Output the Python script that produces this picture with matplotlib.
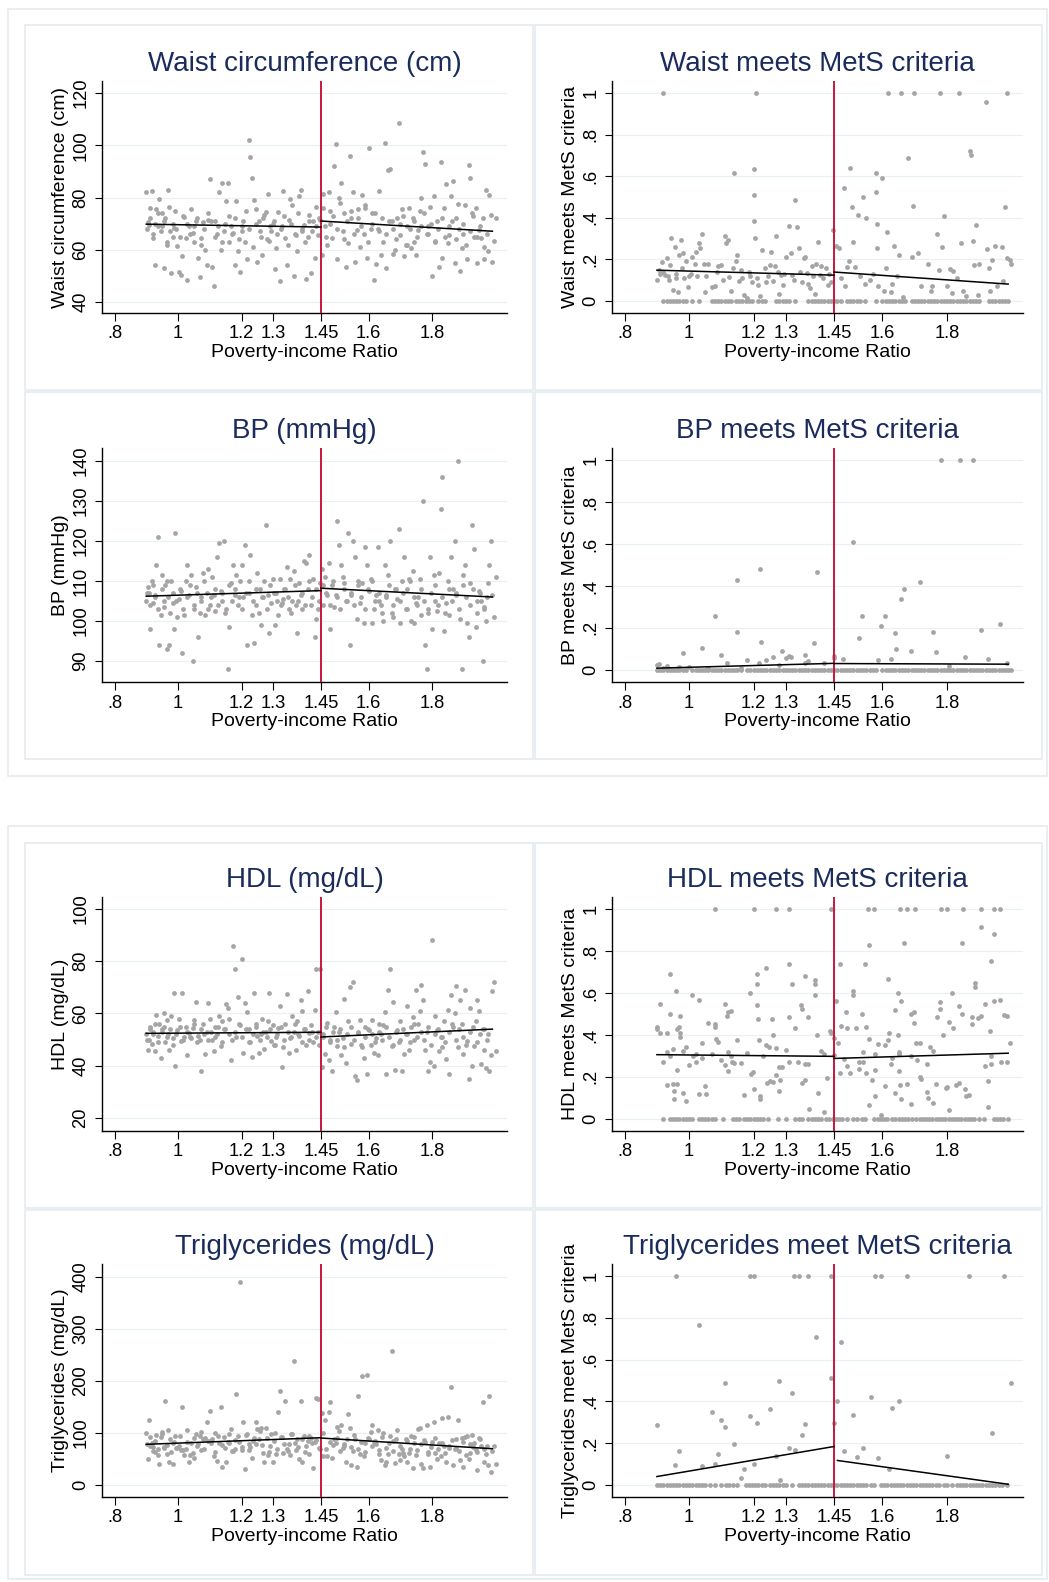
import matplotlib
matplotlib.use("Agg")
import matplotlib.pyplot as plt
from matplotlib.patches import Rectangle

plt.rcParams['font.family'] = ['Liberation Sans', 'DejaVu Sans']

# ---- data ----
pir = [
    0.900, 0.904, 0.909, 0.913, 0.918, 0.922, 0.927, 0.931, 0.936, 0.941,
    0.946, 0.950, 0.955, 0.959, 0.964, 0.969, 0.973, 0.978, 0.983, 0.987,
    0.992, 0.998, 1.003, 1.008, 1.013, 1.018, 1.024, 1.029, 1.035, 1.040,
    1.046, 1.051, 1.057, 1.062, 1.068, 1.073, 1.079, 1.084, 1.090, 1.095,
    1.101, 1.106, 1.112, 1.117, 1.123, 1.128, 1.134, 1.139, 1.145, 1.150,
    1.156, 1.161, 1.167, 1.172, 1.178, 1.183, 1.189, 1.194, 1.200, 1.205,
    1.211, 1.216, 1.222, 1.227, 1.233, 1.238, 1.244, 1.249, 1.255, 1.260,
    1.266, 1.271, 1.277, 1.282, 1.288, 1.293, 1.299, 1.304, 1.310, 1.315,
    1.321, 1.326, 1.332, 1.337, 1.343, 1.348, 1.354, 1.359, 1.365, 1.370,
    1.376, 1.381, 1.387, 1.392, 1.398, 1.403, 1.409, 1.414, 1.420, 1.425,
    1.431, 1.436, 1.442, 1.447, 1.453, 1.458, 1.464, 1.469, 1.475, 1.480,
    1.486, 1.491, 1.497, 1.502, 1.508, 1.513, 1.519, 1.524, 1.530, 1.535,
    1.541, 1.546, 1.552, 1.557, 1.563, 1.568, 1.574, 1.579, 1.585, 1.590,
    1.596, 1.601, 1.607, 1.612, 1.618, 1.623, 1.629, 1.634, 1.640, 1.645,
    1.651, 1.656, 1.662, 1.667, 1.673, 1.678, 1.684, 1.689, 1.695, 1.700,
    1.706, 1.711, 1.717, 1.722, 1.728, 1.733, 1.739, 1.744, 1.750, 1.755,
    1.761, 1.766, 1.772, 1.777, 1.783, 1.788, 1.794, 1.799, 1.805, 1.810,
    1.816, 1.821, 1.827, 1.832, 1.838, 1.843, 1.849, 1.854, 1.860, 1.865,
    1.871, 1.876, 1.882, 1.887, 1.893, 1.898, 1.904, 1.909, 1.915, 1.920,
    1.926, 1.931, 1.937, 1.942, 1.948, 1.953, 1.959, 1.964, 1.969, 1.975,
    1.980, 1.985, 1.990, 1.995, 2.000]

# second batch of points (denser middle band)
pir_b = [
    0.902, 0.911, 0.920, 0.929, 0.938, 0.948, 0.957, 0.966, 0.976, 0.985,
    0.995, 1.006, 1.016, 1.027, 1.038, 1.049, 1.060, 1.071, 1.082, 1.093,
    1.104, 1.115, 1.126, 1.137, 1.148, 1.159, 1.170, 1.181, 1.192, 1.203,
    1.214, 1.225, 1.236, 1.247, 1.258, 1.269, 1.280, 1.291, 1.302, 1.313,
    1.324, 1.335, 1.346, 1.357, 1.368, 1.379, 1.390, 1.401, 1.412, 1.423,
    1.434, 1.445, 1.456, 1.467, 1.478, 1.489, 1.500, 1.511, 1.522, 1.533,
    1.544, 1.555, 1.566, 1.577, 1.588, 1.599, 1.610, 1.621, 1.632, 1.643,
    1.654, 1.665, 1.676, 1.687, 1.698, 1.709, 1.720, 1.731, 1.742, 1.753,
    1.764, 1.775, 1.786, 1.797, 1.808, 1.819, 1.830, 1.841, 1.852, 1.863,
    1.874, 1.885, 1.896, 1.907, 1.918, 1.929, 1.940, 1.951, 1.962, 1.973]

waist = [
    82.0, 70.5, 69.5, 76.0, 82.5, 64.5, 54.0, 75.5, 69.0, 79.5,
    67.0, 74.0, 53.0, 72.0, 62.0, 83.0, 76.5, 51.0, 65.0, 68.5,
    75.0, 61.5, 51.5, 50.5, 57.5, 72.5, 64.5, 48.5, 69.0, 75.5,
    66.5, 63.0, 71.0, 57.0, 49.5, 64.5, 70.5, 60.0, 54.0, 71.5,
    87.0, 53.5, 46.0, 71.0, 66.0, 82.0, 60.0, 85.5, 67.0, 78.5,
    85.5, 63.0, 69.0, 66.5, 54.0, 78.5, 59.5, 51.5, 67.0, 71.0,
    63.0, 56.5, 102.0, 95.5, 87.5, 79.0, 75.5, 55.5, 71.0, 65.0,
    58.0, 73.5, 74.5, 81.5, 63.5, 67.0, 70.0, 52.5, 60.5, 74.5,
    48.0, 69.0, 82.5, 64.5, 54.0, 71.5, 79.5, 77.0, 50.0, 65.5,
    59.5, 80.5, 83.0, 67.0, 69.5, 49.0, 65.0, 73.5, 51.0, 71.0,
    57.0, 76.5, 65.5, 71.5, 58.0, 81.5, 69.0, 62.0, 82.0, 75.0,
    64.5, 92.0, 100.5, 56.5, 80.0, 85.5, 67.0, 74.0, 53.5, 62.5,
    96.0, 72.0, 82.0, 55.5, 67.5, 75.5, 61.0, 81.0, 66.0, 76.0,
    57.0, 99.0, 68.0, 74.0, 48.5, 54.5, 68.0, 82.5, 58.0, 63.0,
    101.0, 53.0, 90.5, 91.0, 71.0, 58.5, 60.0, 72.0, 108.5, 65.5,
    75.5, 57.5, 62.0, 69.0, 76.0, 60.5, 72.0, 63.0, 58.0, 67.5,
    75.0, 80.0, 97.5, 93.0, 66.0, 69.0, 76.5, 50.0, 80.5, 63.5,
    71.0, 53.5, 93.5, 57.0, 76.0, 85.0, 62.5, 65.5, 80.5, 86.5,
    55.0, 72.0, 77.5, 52.0, 60.5, 66.0, 77.0, 56.5, 92.5, 87.5,
    74.0, 65.0, 76.0, 55.0, 67.5, 64.5, 72.0, 56.5, 83.0, 59.5,
    81.0, 73.5, 55.5, 63.5, 72.0]
waist_b = [
    68, 72, 66, 70, 74, 69, 71, 63, 67, 70,
    68, 65, 73, 70, 66, 69, 72, 62, 68, 74,
    71, 65, 69, 63, 70, 73, 66, 72, 64, 69,
    75, 68, 61, 70, 67, 72, 64, 69, 71, 66,
    68, 73, 62, 70, 66, 74, 68, 63, 71, 67,
    69, 72, 76, 65, 70, 73, 68, 78, 64, 71,
    75, 66, 72, 69, 77, 63, 70, 74, 67, 72,
    66, 71, 68, 64, 70, 73, 62, 68, 71, 65,
    69, 74, 66, 70, 63, 68, 72, 65, 69, 71,
    64, 68, 70, 62, 67, 73, 65, 69, 61, 66]

bp = [
    105.0, 108.5, 107.0, 98.0, 110.0, 104.5, 106.5, 114.0, 121.0, 94.0,
    101.5, 111.5, 103.5, 109.0, 93.0, 106.0, 94.0, 110.0, 104.5, 98.0,
    122.0, 101.0, 105.5, 107.5, 92.0, 101.5, 110.0, 114.0, 106.5, 111.5,
    90.0, 103.0, 108.5, 96.0, 102.0, 106.0, 112.0, 101.5, 107.0, 113.0,
    104.0, 111.0, 106.5, 102.5, 116.0, 119.5, 107.5, 105.0, 120.0, 103.0,
    88.0, 98.5, 109.5, 114.0, 106.5, 111.5, 104.0, 110.0, 114.0, 106.0,
    119.0, 94.0, 107.0, 116.5, 101.5, 94.5, 108.0, 112.0, 102.0, 99.0,
    106.0, 110.0, 124.0, 106.5, 97.0, 104.5, 110.5, 99.0, 107.0, 101.5,
    110.5, 104.5, 105.5, 108.0, 113.5, 103.0, 110.5, 105.0, 112.5, 104.0,
    97.0, 109.5, 106.5, 103.0, 115.0, 114.5, 108.0, 116.5, 104.0, 110.5,
    96.0, 100.5, 103.0, 109.5, 113.0, 104.0, 111.0, 106.5, 114.5, 98.0,
    109.0, 103.5, 106.5, 125.0, 119.0, 114.0, 111.0, 109.5, 105.0, 122.0,
    94.0, 106.5, 120.0, 116.0, 100.5, 110.0, 104.5, 109.5, 99.5, 118.5,
    114.0, 107.5, 110.5, 99.5, 103.0, 106.5, 118.5, 105.0, 104.0, 100.0,
    114.0, 106.5, 111.5, 120.0, 102.0, 101.0, 108.0, 105.5, 123.0, 99.5,
    110.0, 116.0, 103.0, 108.0, 110.5, 100.0, 112.5, 99.5, 104.5, 106.0,
    110.5, 101.5, 130.0, 94.0, 88.0, 102.0, 116.0, 98.0, 111.5, 105.0,
    102.5, 112.0, 128.0, 136.0, 97.5, 104.5, 110.0, 101.5, 116.0, 108.0,
    120.0, 106.5, 140.0, 100.5, 88.0, 111.5, 114.0, 99.5, 96.0, 109.5,
    124.0, 118.0, 98.5, 102.0, 107.5, 105.0, 90.0, 103.5, 100.0, 109.5,
    114.0, 120.0, 106.5, 101.0, 111.0]
bp_b = [
    107, 104, 109, 106, 103, 108, 105, 110, 102, 107,
    105, 108, 103, 106, 109, 104, 107, 105, 110, 103,
    106, 108, 104, 107, 102, 109, 105, 108, 106, 103,
    107, 110, 105, 104, 108, 106, 103, 109, 107, 105,
    104, 108, 106, 102, 109, 105, 107, 104, 110, 106,
    108, 105, 109, 107, 104, 110, 106, 103, 108, 105,
    107, 104, 109, 106, 103, 108, 110, 105, 107, 102,
    106, 109, 104, 108, 105, 107, 103, 110, 106, 104,
    108, 105, 103, 107, 109, 104, 106, 102, 108, 105,
    107, 103, 109, 106, 104, 108, 105, 107, 103, 106]

hdl = [
    52.0, 46.0, 50.0, 55.0, 48.5, 53.0, 45.5, 59.5, 51.5, 56.0,
    43.0, 54.0, 60.0, 49.0, 57.5, 52.0, 46.0, 59.0, 50.5, 68.0,
    40.0, 53.5, 58.0, 49.5, 68.0, 51.0, 55.0, 44.0, 52.5, 50.5,
    54.5, 57.5, 64.5, 51.5, 50.0, 38.0, 56.0, 44.5, 53.0, 64.0,
    58.0, 50.0, 45.5, 55.0, 52.0, 59.0, 47.5, 57.0, 54.0, 63.5,
    62.0, 58.0, 42.0, 86.0, 77.0, 51.0, 66.5, 55.5, 81.0, 45.0,
    64.0, 60.5, 54.0, 49.0, 43.5, 68.0, 56.0, 51.5, 45.0, 52.0,
    58.0, 46.5, 53.0, 57.0, 68.0, 49.5, 55.5, 48.0, 51.0, 54.5,
    63.0, 39.5, 47.0, 56.0, 67.5, 45.0, 50.5, 59.0, 53.0, 46.0,
    57.0, 51.5, 65.0, 61.0, 54.0, 48.0, 68.5, 52.5, 55.5, 49.0,
    61.5, 77.0, 53.0, 77.0, 39.5, 51.0, 44.5, 56.5, 42.0, 50.0,
    38.0, 55.0, 60.5, 47.5, 53.0, 44.0, 50.5, 65.5, 41.0, 57.0,
    70.0, 48.5, 72.0, 36.0, 34.5, 52.5, 57.5, 47.0, 43.0, 55.0,
    37.0, 53.5, 48.0, 57.5, 45.0, 50.5, 44.0, 56.0, 52.0, 55.5,
    60.5, 37.0, 69.0, 77.0, 47.5, 64.5, 38.5, 53.5, 49.0, 57.0,
    38.0, 44.5, 52.0, 63.0, 46.0, 55.0, 58.5, 50.0, 69.0, 56.0,
    61.0, 71.0, 65.0, 46.0, 53.0, 38.0, 41.5, 88.0, 40.0, 59.0,
    53.5, 45.5, 51.0, 47.0, 57.0, 42.5, 61.5, 37.0, 67.0, 55.0,
    60.0, 70.5, 47.0, 65.0, 56.0, 44.5, 69.0, 49.5, 35.0, 62.0,
    40.0, 47.5, 57.0, 65.0, 61.0, 40.5, 54.0, 46.0, 39.0, 52.0,
    38.0, 44.0, 68.5, 72.0, 45.5]
hdl_b = [
    50, 54, 52, 56, 49, 53, 55, 51, 54, 48,
    52, 55, 50, 53, 51, 56, 49, 54, 52, 50,
    53, 51, 55, 49, 54, 52, 50, 53, 56, 51,
    54, 49, 52, 55, 50, 53, 51, 54, 48, 52,
    55, 50, 53, 51, 56, 52, 49, 54, 50, 53,
    51, 48, 52, 55, 49, 53, 50, 54, 47, 52,
    55, 50, 53, 48, 51, 54, 52, 49, 53, 50,
    55, 51, 48, 53, 50, 54, 52, 49, 56, 51,
    53, 50, 55, 48, 52, 54, 51, 49, 53, 56,
    50, 54, 51, 48, 53, 55, 49, 52, 54, 50]

trig = [
    100.0, 50.0, 125.0, 76.0, 80.0, 73.0, 63.0, 96.0, 57.0, 40.0,
    92.0, 102.0, 71.0, 162.0, 77.0, 106.0, 45.0, 64.0, 40.0, 82.0,
    95.0, 72.0, 76.0, 68.0, 150.0, 57.0, 70.0, 106.0, 45.0, 80.0,
    62.0, 52.0, 98.0, 78.0, 95.0, 68.0, 88.0, 90.0, 122.0, 84.0,
    143.0, 88.0, 56.0, 100.0, 47.0, 80.0, 150.0, 35.0, 92.0, 45.0,
    82.0, 80.0, 108.0, 65.0, 70.0, 175.0, 95.0, 390.0, 68.0, 122.0,
    30.0, 98.0, 78.0, 73.0, 52.0, 90.0, 122.0, 107.0, 88.0, 110.0,
    77.0, 45.0, 110.0, 58.0, 63.0, 98.0, 45.0, 100.0, 60.0, 140.0,
    181.0, 93.0, 62.0, 162.0, 70.0, 78.0, 58.0, 98.0, 238.0, 68.0,
    88.0, 50.0, 162.0, 45.0, 95.0, 75.0, 84.0, 60.0, 90.0, 32.0,
    82.0, 168.0, 165.0, 70.0, 138.0, 55.0, 126.0, 56.0, 140.0, 160.0,
    52.0, 88.0, 80.0, 112.0, 104.0, 115.0, 72.0, 75.0, 45.0, 137.0,
    110.0, 38.0, 65.0, 88.0, 35.0, 172.0, 60.0, 210.0, 55.0, 80.0,
    212.0, 88.0, 102.0, 116.0, 82.0, 78.0, 105.0, 60.0, 48.0, 100.0,
    38.0, 45.0, 60.0, 95.0, 258.0, 85.0, 42.0, 106.0, 60.0, 48.0,
    70.0, 55.0, 88.0, 45.0, 62.0, 95.0, 32.0, 80.0, 58.0, 108.0,
    110.0, 40.0, 33.0, 82.0, 115.0, 60.0, 35.0, 82.0, 122.0, 62.0,
    50.0, 80.0, 55.0, 128.0, 75.0, 45.0, 130.0, 72.0, 188.0, 38.0,
    70.0, 88.0, 125.0, 48.0, 90.0, 35.0, 92.0, 95.0, 50.0, 62.0,
    96.0, 80.0, 68.0, 28.0, 90.0, 75.0, 160.0, 45.0, 60.0, 38.0,
    172.0, 25.0, 65.0, 75.0, 40.0]
trig_b = [
    78, 92, 65, 84, 70, 98, 74, 60, 88, 81,
    72, 95, 67, 83, 58, 90, 76, 102, 69, 85,
    80, 63, 94, 77, 71, 99, 66, 87, 82, 73,
    96, 68, 85, 79, 104, 62, 90, 75, 84, 70,
    92, 78, 66, 98, 81, 73, 88, 64, 95, 80,
    86, 72, 100, 69, 83, 77, 91, 65, 79, 88,
    74, 96, 70, 82, 63, 90, 76, 85, 68, 93,
    72, 80, 66, 88, 75, 61, 84, 70, 92, 67,
    78, 86, 64, 74, 90, 69, 81, 62, 76, 87,
    71, 66, 83, 58, 79, 73, 64, 88, 69, 75]

# share meeting the criteria: non-zero points and x positions of the zeros
waist_mets_x = [
    0.900, 0.905, 0.910, 0.915, 0.920, 0.925, 0.930, 0.935, 0.940, 0.945,
    0.950, 0.955, 0.960, 0.965, 0.970, 0.975, 0.980, 0.985, 0.990, 0.995,
    1.005, 1.010, 1.020, 1.025, 1.030, 1.035, 1.040, 1.045, 1.050, 1.060,
    1.070, 1.080, 1.090, 1.100, 1.110, 1.115, 1.120, 1.125, 1.130, 1.140,
    1.145, 1.150, 1.155, 1.160, 1.170, 1.180, 1.190, 1.195, 1.200, 1.201,
    1.202, 1.203, 1.209, 1.210, 1.215, 1.220, 1.225, 1.235, 1.240, 1.250,
    1.255, 1.260, 1.270, 1.275, 1.280, 1.285, 1.290, 1.300, 1.310, 1.315,
    1.320, 1.330, 1.335, 1.340, 1.350, 1.355, 1.360, 1.365, 1.370, 1.375,
    1.380, 1.390, 1.395, 1.400, 1.405, 1.410, 1.425, 1.430, 1.440, 1.445,
    1.455, 1.465, 1.470, 1.480, 1.485, 1.490, 1.495, 1.500, 1.505, 1.510,
    1.515, 1.525, 1.530, 1.540, 1.545, 1.550, 1.560, 1.570, 1.580, 1.581,
    1.582, 1.583, 1.585, 1.600, 1.605, 1.610, 1.615, 1.617, 1.625, 1.630,
    1.635, 1.645, 1.650, 1.658, 1.665, 1.680, 1.690, 1.695, 1.698, 1.710,
    1.720, 1.740, 1.750, 1.755, 1.770, 1.775, 1.777, 1.785, 1.790, 1.800,
    1.810, 1.815, 1.820, 1.830, 1.837, 1.845, 1.850, 1.860, 1.870, 1.875,
    1.880, 1.885, 1.890, 1.895, 1.900, 1.920, 1.925, 1.930, 1.935, 1.940,
    1.950, 1.955, 1.970, 1.975, 1.980, 1.985, 1.986, 1.995, 2.000,
    0.918, 0.938, 0.958, 0.978, 0.998, 1.018, 1.052, 1.085, 1.105, 1.135,
    1.165, 1.185, 1.245, 1.265, 1.295, 1.325, 1.345, 1.385, 1.415, 1.435]
waist_mets_y = [
    0.100, 0.150, 0.130, 0.185, 1.000, 0.125, 0.205, 0.120, 0.175, 0.305,
    0.055, 0.260, 0.110, 0.045, 0.220, 0.295, 0.230, 0.110, 0.190, 0.065,
    0.130, 0.210, 0.235, 0.120, 0.280, 0.255, 0.320, 0.180, 0.045, 0.180,
    0.065, 0.070, 0.170, 0.175, 0.310, 0.280, 0.295, 0.115, 0.050, 0.615,
    0.190, 0.220, 0.095, 0.150, 0.030, 0.015, 0.120, 0.090, 0.635, 0.510,
    0.385, 0.305, 1.000, 0.110, 0.075, 0.025, 0.245, 0.160, 0.090, 0.175,
    0.235, 0.095, 0.310, 0.140, 0.035, 0.125, 0.075, 0.210, 0.360, 0.230,
    0.125, 0.485, 0.355, 0.255, 0.090, 0.205, 0.210, 0.135, 0.080, 0.060,
    0.170, 0.035, 0.180, 0.285, 0.125, 0.170, 0.160, 0.075, 0.090, 0.340,
    0.265, 0.255, 0.110, 0.545, 0.070, 0.165, 0.190, 0.640, 0.450, 0.285,
    0.165, 0.415, 0.120, 0.500, 0.080, 0.400, 0.100, 0.130, 0.615, 0.525,
    0.370, 0.255, 0.070, 0.590, 0.050, 0.160, 0.330, 1.000, 0.045, 0.080,
    0.265, 0.120, 0.220, 1.000, 0.020, 0.690, 0.210, 0.455, 1.000, 0.230,
    0.070, 0.180, 0.050, 0.070, 0.320, 0.150, 1.000, 0.260, 0.410, 0.070,
    0.155, 0.040, 0.145, 0.110, 1.000, 0.280, 0.050, 0.025, 0.720, 0.700,
    0.290, 0.175, 0.365, 0.030, 0.180, 0.955, 0.250, 0.160, 0.050, 0.195,
    0.265, 0.070, 0.260, 0.095, 0.450, 0.205, 1.000, 0.195, 0.180,
    0.140, 0.100, 0.130, 0.160, 0.120, 0.180, 0.120, 0.140, 0.100, 0.160,
    0.110, 0.140, 0.120, 0.170, 0.130, 0.100, 0.140, 0.120, 0.110, 0.130]
waist_zero_x = [
    0.92, 0.93, 0.94, 0.95, 0.96, 0.97, 0.98, 0.99, 1.01, 1.03, 1.07, 1.08,
    1.09, 1.10, 1.11, 1.12, 1.13, 1.145, 1.155, 1.165, 1.175, 1.185, 1.195,
    1.215, 1.225, 1.235, 1.27, 1.28, 1.29, 1.30, 1.31, 1.33, 1.37, 1.38,
    1.39, 1.40, 1.41, 1.42, 1.43, 1.44, 1.45, 1.46, 1.47, 1.49, 1.50, 1.51,
    1.52, 1.53, 1.545, 1.58, 1.60, 1.61, 1.62, 1.63, 1.64, 1.65, 1.66, 1.67,
    1.69, 1.70, 1.71, 1.72, 1.73, 1.74, 1.75, 1.76, 1.77, 1.78, 1.79, 1.80,
    1.81, 1.82, 1.83, 1.84, 1.85, 1.86, 1.87, 1.88, 1.89, 1.90, 1.93, 1.94,
    1.95, 1.96, 1.97, 1.98, 1.99]

bp_mets_x = [
    1.780, 1.840, 1.880, 1.507, 1.219, 1.397, 1.148, 1.717, 1.667, 1.657,
    1.080, 1.537, 1.607, 1.966, 1.596, 1.906, 1.150, 1.756, 1.638, 1.527,
    1.222, 1.387, 1.040, 1.641, 1.687, 1.289, 1.766, 0.980, 1.099, 1.358,
    1.309, 1.449, 1.260, 1.856, 1.299, 1.478, 1.627, 1.926, 1.179, 1.239,
    1.587, 1.368, 1.119, 1.218, 1.418, 1.986, 0.908, 0.900, 0.930, 1.806,
    0.970, 1.000, 1.060, 1.160, 1.280, 1.451, 1.360, 1.315, 0.920]
bp_mets_y = [
    1.000, 1.000, 1.000, 0.610, 0.480, 0.465, 0.430, 0.420, 0.385, 0.340,
    0.255, 0.255, 0.255, 0.220, 0.210, 0.190, 0.180, 0.180, 0.175, 0.150,
    0.135, 0.130, 0.105, 0.100, 0.090, 0.090, 0.085, 0.080, 0.070, 0.070,
    0.065, 0.065, 0.060, 0.060, 0.055, 0.050, 0.050, 0.050, 0.045, 0.045,
    0.045, 0.040, 0.035, 0.035, 0.035, 0.035, 0.030, 0.025, 0.020, 0.020,
    0.015, 0.015, 0.010, 0.010, 0.025, 0.055, 0.035, 0.060, 0.010]
bp_zero_x = [
    0.90, 0.91, 0.92, 0.93, 0.94, 0.95, 0.96, 0.97, 0.98, 0.99, 1.01, 1.02,
    1.03, 1.04, 1.05, 1.06, 1.07, 1.08, 1.09, 1.10, 1.11, 1.12, 1.13, 1.14,
    1.15, 1.16, 1.18, 1.19, 1.20, 1.21, 1.22, 1.23, 1.24, 1.25, 1.26, 1.27,
    1.28, 1.29, 1.30, 1.31, 1.32, 1.33, 1.34, 1.35, 1.36, 1.37, 1.38, 1.39,
    1.40, 1.41, 1.42, 1.43, 1.44, 1.45, 1.46, 1.47, 1.48, 1.49, 1.50, 1.51,
    1.52, 1.53, 1.54, 1.55, 1.56, 1.57, 1.58, 1.60, 1.61, 1.62, 1.63, 1.64,
    1.65, 1.66, 1.67, 1.68, 1.69, 1.70, 1.71, 1.72, 1.73, 1.74, 1.75, 1.76,
    1.77, 1.78, 1.79, 1.80, 1.81, 1.82, 1.83, 1.84, 1.85, 1.86, 1.87, 1.88,
    1.89, 1.90, 1.91, 1.92, 1.93, 1.94, 1.95, 1.96, 1.97, 1.98, 1.99, 2.00]

hdl_mets_x = [
    1.080, 1.200, 1.270, 1.310, 1.440, 1.555, 1.575, 1.655, 1.675, 1.700,
    1.780, 1.800, 1.850, 1.905, 1.945, 1.965,
    0.900, 0.901, 0.909, 0.910, 0.919, 0.930, 0.931, 0.932, 0.940, 0.941,
    0.942, 0.950, 0.951, 0.952, 0.953, 0.960, 0.961, 0.962, 0.963, 0.970,
    0.971, 0.972, 0.973, 0.980, 0.981, 0.990, 0.991, 1.000, 1.010, 1.011,
    1.020, 1.021, 1.030, 1.031, 1.040, 1.041, 1.050, 1.051, 1.060, 1.070,
    1.079, 1.081, 1.082, 1.089, 1.100, 1.110, 1.111, 1.119, 1.120, 1.121,
    1.122, 1.130, 1.131, 1.132, 1.140, 1.149, 1.160, 1.170, 1.180, 1.190,
    1.191, 1.199, 1.201, 1.210, 1.211, 1.212, 1.213, 1.218, 1.219, 1.220,
    1.228, 1.239, 1.240, 1.241, 1.249, 1.250, 1.258, 1.259, 1.260, 1.269,
    1.270, 1.279, 1.280, 1.281, 1.289, 1.299, 1.309, 1.310, 1.311, 1.318,
    1.329, 1.338, 1.348, 1.349, 1.350, 1.359, 1.360, 1.361, 1.369, 1.370,
    1.371, 1.389, 1.390, 1.391, 1.398, 1.399, 1.408, 1.419, 1.420, 1.429,
    1.438, 1.439, 1.449, 1.450,
    1.457, 1.469, 1.470, 1.462, 1.480, 1.488, 1.489, 1.490, 1.468, 1.498,
    1.508, 1.509, 1.518, 1.527, 1.528, 1.537, 1.538, 1.539, 1.547, 1.548,
    1.549, 1.557, 1.558, 1.559, 1.567, 1.576, 1.577, 1.578, 1.586, 1.596,
    1.607, 1.608, 1.617, 1.618, 1.619, 1.627, 1.628, 1.638, 1.639, 1.648,
    1.649, 1.650, 1.651, 1.652, 1.653, 1.656, 1.657, 1.667, 1.677, 1.687,
    1.688, 1.689, 1.698, 1.699, 1.705, 1.706, 1.716, 1.717, 1.718, 1.738,
    1.739, 1.740, 1.746, 1.757, 1.758, 1.767, 1.768, 1.777, 1.778, 1.787,
    1.798, 1.799, 1.806, 1.807, 1.817, 1.818, 1.827, 1.837, 1.838, 1.847,
    1.848, 1.857, 1.858, 1.867, 1.878, 1.879, 1.886, 1.887, 1.896, 1.906,
    1.907, 1.917, 1.918, 1.927, 1.928, 1.935, 1.936, 1.937, 1.938, 1.946,
    1.947, 1.966, 1.967, 1.976, 1.986, 1.987, 1.996]
hdl_mets_y = [
    1.0, 1.0, 1.0, 1.0, 1.0, 1.0, 1.0, 1.0, 1.0, 1.0,
    1.0, 1.0, 1.0, 1.0, 1.0, 1.0,
    0.440, 0.430, 0.550, 0.410, 0.270, 0.160, 0.320, 0.410, 0.690, 0.500,
    0.300, 0.335, 0.165, 0.135, 0.095, 0.610, 0.430, 0.235, 0.165, 0.440,
    0.410, 0.390, 0.490, 0.325, 0.125, 0.345, 0.085, 0.255, 0.590, 0.300,
    0.310, 0.270, 0.565, 0.120, 0.360, 0.290, 0.155, 0.120, 0.455, 0.310,
    0.440, 0.450, 0.380, 0.365, 0.280, 0.550, 0.255, 0.490, 0.510, 0.230,
    0.320, 0.515, 0.300, 0.270, 0.265, 0.375, 0.265, 0.115, 0.315, 0.600,
    0.215, 0.225, 0.140, 0.690, 0.645, 0.545, 0.475, 0.375, 0.110, 0.095,
    0.300, 0.720, 0.350, 0.170, 0.345, 0.180, 0.475, 0.400, 0.175, 0.340,
    0.210, 0.245, 0.135, 0.185, 0.245, 0.330, 0.740, 0.485, 0.270, 0.645,
    0.435, 0.270, 0.545, 0.525, 0.170, 0.680, 0.185, 0.260, 0.485, 0.260,
    0.045, 0.645, 0.590, 0.660, 0.400, 0.125, 0.325, 0.310, 0.035, 0.195,
    0.420, 0.410, 0.385, 0.305,
    0.560, 0.740, 0.445, 0.360, 0.285, 0.510, 0.250, 0.435, 0.220, 0.220,
    0.610, 0.590, 0.435, 0.270, 0.240, 0.500, 0.320, 0.270, 0.740, 0.440,
    0.220, 0.830, 0.380, 0.065, 0.185, 0.110, 0.235, 0.310, 0.355, 0.020,
    0.350, 0.155, 0.665, 0.375, 0.410, 0.260, 0.290, 0.520, 0.125, 0.600,
    0.400, 0.320, 0.310, 0.230, 0.160, 0.560, 0.095, 0.840, 0.165, 0.500,
    0.070, 0.300, 0.510, 0.455, 0.360, 0.280, 0.360, 0.200, 0.190, 0.260,
    0.130, 0.100, 0.345, 0.325, 0.075, 0.165, 0.485, 0.555, 0.525, 0.400,
    0.145, 0.150, 0.460, 0.040, 0.600, 0.435, 0.160, 0.540, 0.170, 0.840,
    0.500, 0.140, 0.110, 0.115, 0.485, 0.450, 0.650, 0.630, 0.480, 0.490,
    0.915, 0.250, 0.550, 0.180, 0.055, 0.420, 0.300, 0.260, 0.755, 0.880,
    0.560, 0.565, 0.270, 0.495, 0.490, 0.270, 0.360]
hdl_zero_x = [
    0.92, 0.94, 0.95, 0.96, 0.97, 0.98, 0.99, 1.00, 1.01, 1.03, 1.04, 1.05,
    1.06, 1.07, 1.08, 1.105, 1.135, 1.145, 1.155, 1.17, 1.18, 1.19, 1.20,
    1.21, 1.22, 1.23, 1.245, 1.275, 1.30, 1.33, 1.34, 1.35, 1.37, 1.38,
    1.39, 1.40, 1.41, 1.425, 1.435, 1.445, 1.455, 1.465, 1.475, 1.49, 1.51,
    1.52, 1.535, 1.545, 1.575, 1.585, 1.595, 1.605, 1.615, 1.63, 1.64, 1.65,
    1.66, 1.67, 1.68, 1.69, 1.705, 1.715, 1.725, 1.735, 1.745, 1.755, 1.765,
    1.775, 1.785, 1.795, 1.805, 1.815, 1.825, 1.835, 1.845, 1.855, 1.865,
    1.875, 1.885, 1.90, 1.915, 1.945, 1.955, 1.965, 1.975, 1.99]

trig_mets_x = [
    0.960, 1.190, 1.200, 1.325, 1.340, 1.370, 1.440, 1.576, 1.596, 1.677,
    1.867, 1.976,
    0.900, 0.955, 0.970, 1.030, 1.040, 1.070, 1.080, 1.090, 1.100, 1.110,
    1.112, 1.140, 1.160, 1.170, 1.190, 1.200, 1.210, 1.250, 1.270, 1.280,
    1.282, 1.310, 1.318, 1.330, 1.350, 1.360, 1.395, 1.440, 1.450, 1.460,
    1.470, 1.480, 1.510, 1.520, 1.540, 1.565, 1.585, 1.620, 1.630, 1.650,
    1.800, 1.940, 2.000]
trig_mets_y = [
    1.0, 1.0, 1.0, 1.0, 1.0, 1.0, 1.0, 1.0, 1.0, 1.0,
    1.0, 1.0,
    0.285, 0.095, 0.160, 0.765, 0.090, 0.350, 0.100, 0.150, 0.310, 0.490,
    0.275, 0.195, 0.035, 0.075, 0.330, 0.100, 0.295, 0.365, 0.140, 0.500,
    0.025, 0.175, 0.440, 0.165, 0.240, 0.290, 0.710, 0.510, 0.295, 0.400,
    0.685, 0.160, 0.335, 0.135, 0.175, 0.420, 0.130, 0.075, 0.370, 0.400,
    0.140, 0.250, 0.490]
trig_zero_x = [
    0.90, 0.91, 0.92, 0.93, 0.94, 0.95, 0.96, 0.97, 0.98, 0.99, 1.00, 1.01,
    1.02, 1.03, 1.04, 1.05, 1.065, 1.08, 1.10, 1.115, 1.125, 1.135, 1.15,
    1.175, 1.185, 1.195, 1.205, 1.215, 1.225, 1.235, 1.25, 1.26, 1.27, 1.28,
    1.29, 1.30, 1.32, 1.34, 1.35, 1.36, 1.37, 1.38, 1.39, 1.40, 1.41, 1.42,
    1.43, 1.44, 1.45, 1.46, 1.47, 1.48, 1.49, 1.50, 1.51, 1.52, 1.53, 1.54,
    1.55, 1.565, 1.575, 1.595, 1.605, 1.615, 1.625, 1.635, 1.645, 1.655,
    1.665, 1.675, 1.685, 1.695, 1.705, 1.715, 1.725, 1.735, 1.745, 1.755,
    1.765, 1.775, 1.79, 1.80, 1.815, 1.83, 1.84, 1.85, 1.86, 1.87, 1.88,
    1.89, 1.90, 1.91, 1.92, 1.93, 1.94, 1.95, 1.96, 1.97, 1.985]

# fitted lines, left and right of the 1.45 cut-off: (x0, y0, x1, y1)
fits = {
    'waist': [(0.90, 69.8, 1.45, 68.7), (1.45, 71.0, 1.99, 67.1)],
    'waist_mets': [(0.90, 0.148, 1.45, 0.124), (1.45, 0.139, 1.99, 0.081)],
    'bp': [(0.90, 106.2, 1.45, 107.6), (1.45, 108.2, 1.99, 106.0)],
    'bp_mets': [(0.90, 0.008, 1.45, 0.031), (1.45, 0.030, 1.99, 0.027)],
    'hdl': [(0.90, 52.4, 1.45, 52.8), (1.45, 51.0, 1.99, 54.0)],
    'hdl_mets': [(0.90, 0.306, 1.45, 0.298), (1.45, 0.288, 1.99, 0.313)],
    'trig': [(0.90, 78.3, 1.45, 91.0), (1.45, 90.4, 1.99, 69.8)],
    'trig_mets': [(0.90, 0.040, 1.45, 0.184), (1.46, 0.117, 1.99, 0.003)],
}

x_ticks = [0.8, 1.0, 1.2, 1.3, 1.45, 1.6, 1.8]
x_ticklabels = ['.8', '1', '1.2', '1.3', '1.45', '1.6', '1.8']
share_ticks = [0, 0.2, 0.4, 0.6, 0.8, 1.0]
share_ticklabels = ['0', '.2', '.4', '.6', '.8', '1']
cutoff = 1.45

# ---- styling ----
W, H = 1049, 1582
GRAY = '#a5a5a5'
GRID = '#e9f0f2'
BORDER = '#e2eaed'
NAVY = '#1b2c5c'
RED = '#c8163f'

fig = plt.figure(figsize=(W / 100, H / 100), dpi=100)


def frame(x0, y0, x1, y1):
    fig.add_artist(Rectangle((x0 / W, 1 - y1 / H), (x1 - x0) / W, (y1 - y0) / H,
                             transform=fig.transFigure, fill=False,
                             ec=BORDER, lw=1.1))


# outer boxes and cells
frame(8, 9, 1047, 776)
frame(25, 25, 533, 390)
frame(535, 25, 1042, 390)
frame(25, 392, 533, 759)
frame(535, 392, 1042, 759)
frame(8, 826, 1047, 1579)
frame(25, 843, 533, 1208)
frame(535, 843, 1042, 1208)
frame(25, 1210, 533, 1575)
frame(535, 1210, 1042, 1575)


def make_ax(x0, x1, y0, y1, ylim, yticks, yticklabels, ylabel, title):
    ax = fig.add_axes([x0 / W, 1 - y1 / H, (x1 - x0) / W, (y1 - y0) / H])
    w, h = x1 - x0, y1 - y0
    ax.set_xlim(0.7606, 2.036)
    ax.set_ylim(*ylim)
    for s in ['top', 'right']:
        ax.spines[s].set_visible(False)
    for s in ['left', 'bottom']:
        ax.spines[s].set_linewidth(1.0)
    ax.set_xticks(x_ticks)
    ax.set_xticklabels(x_ticklabels)
    ax.set_yticks(yticks)
    ax.set_yticklabels(yticklabels, rotation=90, va='center')
    ax.tick_params(direction='out', length=5.4, width=0.8, pad=3.6,
                   labelsize=13.2, colors='black')
    for yv in yticks:
        ax.axhline(yv, color=GRID, lw=0.9, zorder=0)
    ax.axvline(cutoff, color=RED, lw=1.4, zorder=4)
    ax.set_xlabel('Poverty-income Ratio', fontsize=14)
    ax.xaxis.set_label_coords(0.5, -31 / h)
    ax.set_ylabel(ylabel, fontsize=14)
    ax.yaxis.set_label_coords(-33 / w, 0.5)
    ax.text(0.5, 1 + 10 / h, title, transform=ax.transAxes, ha='center',
            va='baseline', fontsize=20, color=NAVY)
    return ax


def draw_fit(ax, key):
    for x0, y0, x1, y1 in fits[key]:
        ax.plot([x0, x1], [y0, y1], color='black', lw=1.1, zorder=5)


def dots(ax, xs, ys):
    n = min(len(xs), len(ys))
    ax.scatter(xs[:n], ys[:n], s=12, color=GRAY, linewidths=0, zorder=3)


LEFT = (102, 507)
RIGHT = (612, 1023)
ROWS = [(81, 313), (448, 682), (897, 1131), (1264, 1497)]
SHARE_LIM = (-0.058, 1.058)

# waist
ax = make_ax(*LEFT, *ROWS[0], (35.8, 124.6), [40, 60, 80, 100, 120],
             ['40', '60', '80', '100', '120'], 'Waist circumference (cm)',
             'Waist circumference (cm)')
dots(ax, pir, waist)
dots(ax, pir_b, waist_b)
draw_fit(ax, 'waist')

ax = make_ax(*RIGHT, *ROWS[0], SHARE_LIM, share_ticks, share_ticklabels,
             'Waist meets MetS criteria', 'Waist meets MetS criteria')
dots(ax, waist_mets_x, waist_mets_y)
dots(ax, waist_zero_x, [0.0] * len(waist_zero_x))
draw_fit(ax, 'waist_mets')

# blood pressure
ax = make_ax(*LEFT, *ROWS[1], (84.75, 143.25), [90, 100, 110, 120, 130, 140],
             ['90', '100', '110', '120', '130', '140'], 'BP (mmHg)',
             'BP (mmHg)')
dots(ax, pir, bp)
dots(ax, pir_b, bp_b)
draw_fit(ax, 'bp')

ax = make_ax(*RIGHT, *ROWS[1], SHARE_LIM, share_ticks, share_ticklabels,
             'BP meets MetS criteria', 'BP meets MetS criteria')
dots(ax, bp_mets_x, bp_mets_y)
dots(ax, bp_zero_x, [0.0] * len(bp_zero_x))
draw_fit(ax, 'bp_mets')

# HDL
ax = make_ax(*LEFT, *ROWS[2], (15.0, 104.6), [20, 40, 60, 80, 100],
             ['20', '40', '60', '80', '100'], 'HDL (mg/dL)', 'HDL (mg/dL)')
dots(ax, pir, hdl)
dots(ax, pir_b, hdl_b)
draw_fit(ax, 'hdl')

ax = make_ax(*RIGHT, *ROWS[2], SHARE_LIM, share_ticks, share_ticklabels,
             'HDL meets MetS criteria', 'HDL meets MetS criteria')
dots(ax, hdl_mets_x, hdl_mets_y)
dots(ax, hdl_zero_x, [0.0] * len(hdl_zero_x))
draw_fit(ax, 'hdl_mets')

# triglycerides
ax = make_ax(*LEFT, *ROWS[3], (-23, 425), [0, 100, 200, 300, 400],
             ['0', '100', '200', '300', '400'], 'Triglycerides (mg/dL)',
             'Triglycerides (mg/dL)')
dots(ax, pir, trig)
dots(ax, pir_b, trig_b)
draw_fit(ax, 'trig')

ax = make_ax(*RIGHT, *ROWS[3], SHARE_LIM, share_ticks, share_ticklabels,
             'Triglycerides meet MetS criteria',
             'Triglycerides meet MetS criteria')
dots(ax, trig_mets_x, trig_mets_y)
dots(ax, trig_zero_x, [0.0] * len(trig_zero_x))
draw_fit(ax, 'trig_mets')

fig.savefig('out.png', dpi=100)
